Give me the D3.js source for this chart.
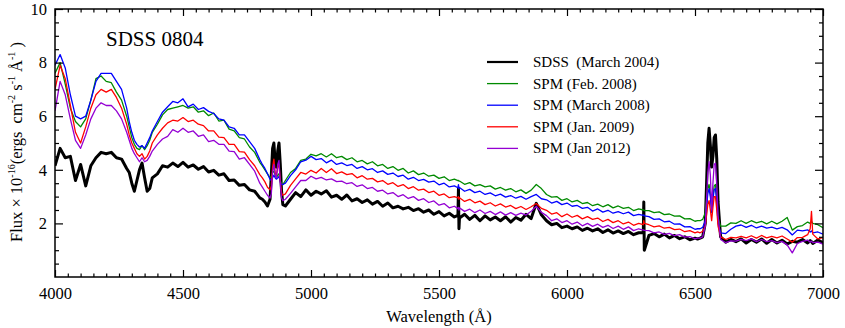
<!DOCTYPE html>
<html>
<head>
<meta charset="utf-8">
<script src="https://cdn.jsdelivr.net/npm/d3@7"></script>
<style>
  body { margin: 0; background: #fff; }
  text { font-family: "Liberation Serif", "Times New Roman", serif; fill: #000; }
</style>
</head>
<body>
<div id="chart"></div>
<script>
// Wavelength grid (Angstrom), finer around the Balmer lines and sky-line spikes
const wavelength = [
  4000,4020,4040,4060,4080,4100,4120,4140,4160,4180,4200,4220,4240,4260,4280,
  4290,4300,4310,4320,4330,4340,4350,4360,4370,4380,
  4400,4420,4440,4460,4480,4500,4520,4540,4560,4580,4600,4620,4640,4660,4680,4700,4720,4740,4760,4780,4800,
  4810,4820,4830,4840,4845,4850,4855,4860,4865,4870,4875,4880,4885,4890,4900,
  4920,4940,4960,4980,5000,5020,5040,5060,5080,5100,5120,5140,5160,5180,5200,5220,5240,5260,5280,5300,5320,5340,5360,5380,5400,5420,5440,5460,5480,5500,5520,5540,5560,
  5574,5576,5578,
  5580,5600,5620,5640,5660,5680,5700,5720,5740,5760,5780,5800,5820,5840,5860,5880,5900,5920,5940,5960,5980,6000,6020,6040,6060,6080,6100,6120,6140,6160,6180,6200,6220,6240,6260,6280,
  6298,6300,6302,
  6320,6340,6360,6380,6400,6420,6440,6460,6480,6500,
  6510,6520,6530,6540,6545,6550,6555,6560,6565,6570,6575,6580,6585,6590,6600,
  6620,6640,6660,6680,6700,6720,6740,6760,6780,6800,6820,6840,6860,6880,6900,6920,6940,6950,6955,6960,6980,7000
];

// Flux in 1e-16 erg/cm2/s/A
const sdssMar2004 = [
  4.15,4.8,4.45,4.5,3.6,4.2,3.4,4.15,4.45,4.65,4.6,4.65,4.45,4.4,4.05,
  3.9,3.5,3.2,3.6,4.0,4.25,3.7,3.2,3.3,3.7,
  3.85,4.15,4.1,4.25,4.12,4.28,4.1,4.18,4.02,4.12,3.92,3.98,3.8,3.85,3.6,3.62,3.42,3.45,3.25,3.2,2.95,
  2.9,2.8,2.65,2.9,3.8,4.8,5.0,4.3,4.1,4.7,5.0,4.2,3.2,2.7,2.65,
  2.9,3.15,3.0,3.25,3.05,3.2,3.1,3.22,2.98,3.05,2.9,3.06,2.84,2.92,2.78,2.88,2.72,2.82,2.64,2.76,2.58,2.64,2.54,2.6,2.48,2.55,2.42,2.5,2.34,2.44,2.28,2.38,2.24,
  2.3,3.3,1.8,
  2.2,2.34,2.15,2.3,2.1,2.28,2.13,2.24,2.1,2.25,2.05,2.22,2.12,2.34,2.18,2.75,2.32,2.1,1.95,2.0,1.84,1.9,1.8,1.87,1.74,1.82,1.72,1.8,1.66,1.76,1.64,1.72,1.62,1.7,1.58,1.65,
  1.65,2.8,1.0,
  1.55,1.62,1.5,1.6,1.46,1.55,1.43,1.5,1.39,1.45,
  1.42,1.45,1.5,2.0,3.4,5.0,5.55,4.9,4.1,4.5,5.2,5.3,4.4,2.8,1.5,
  1.3,1.4,1.32,1.42,1.27,1.4,1.3,1.42,1.26,1.4,1.27,1.37,1.23,1.33,1.3,1.4,1.27,1.36,1.32,1.25,1.38,1.28
];

const spmFeb2008 = [
  7.6,8.0,7.2,6.3,5.8,5.6,5.9,6.6,7.4,7.5,7.3,7.25,6.9,6.6,6.0,
  5.6,5.2,4.95,4.8,4.75,4.9,4.75,4.9,5.1,5.4,
  5.7,6.05,6.25,6.3,6.35,6.4,6.3,6.35,6.15,6.2,6.02,6.12,5.82,5.85,5.52,5.45,5.2,5.15,4.85,4.65,4.28,
  4.15,4.0,3.85,3.7,3.75,3.9,3.95,3.8,3.7,3.8,3.85,3.6,3.45,3.45,3.6,
  3.9,4.05,4.35,4.4,4.58,4.52,4.6,4.48,4.6,4.45,4.5,4.38,4.45,4.3,4.35,4.22,4.3,4.15,4.2,4.05,4.12,3.98,4.05,3.88,3.96,3.82,3.88,3.76,3.8,3.68,3.74,3.6,3.65,
  3.6,3.6,3.58,
  3.58,3.46,3.52,3.4,3.45,3.36,3.4,3.28,3.34,3.24,3.3,3.18,3.25,3.12,3.24,3.45,3.3,3.08,2.98,3.0,2.86,2.92,2.8,2.86,2.74,2.78,2.66,2.72,2.62,2.7,2.58,2.65,2.56,2.6,2.48,2.54,
  2.5,2.5,2.48,
  2.48,2.4,2.43,2.33,2.35,2.27,2.28,2.17,2.18,2.08,
  2.1,2.1,2.15,2.4,2.9,3.3,3.45,3.1,2.6,3.0,3.4,3.45,2.9,2.2,1.9,
  1.9,2.02,2.0,2.1,2.0,2.1,2.02,2.08,1.98,2.08,1.98,2.08,2.22,1.75,1.88,1.92,2.05,2.0,2.08,2.0,1.95,1.84
];

const spmMar2008 = [
  7.9,8.3,7.8,6.8,6.0,5.9,6.0,6.6,7.3,7.6,7.6,7.6,7.3,7.0,6.3,
  5.8,5.4,5.1,4.95,4.85,4.9,4.8,5.0,5.2,5.45,
  5.8,6.15,6.35,6.55,6.5,6.65,6.35,6.45,6.25,6.32,6.18,6.1,5.9,5.85,5.6,5.55,5.3,5.3,5.05,4.8,4.38,
  4.2,4.05,3.85,3.65,3.6,3.7,3.8,3.7,3.65,3.7,3.75,3.55,3.45,3.45,3.5,
  3.78,4.0,4.3,4.36,4.5,4.38,4.42,4.26,4.36,4.2,4.26,4.16,4.2,4.05,4.12,4.0,4.04,3.9,3.96,3.83,3.88,3.75,3.8,3.65,3.72,3.6,3.64,3.54,3.58,3.44,3.5,3.36,3.4,
  3.33,3.45,3.3,
  3.34,3.2,3.27,3.15,3.2,3.08,3.14,3.03,3.09,2.98,3.04,2.94,3.01,2.9,3.0,3.08,2.92,2.88,2.76,2.82,2.7,2.76,2.64,2.67,2.56,2.6,2.46,2.54,2.42,2.49,2.38,2.44,2.36,2.42,2.29,2.34,
  2.3,2.32,2.28,
  2.25,2.15,2.17,2.06,2.08,1.97,1.98,1.87,1.88,1.78,
  1.8,1.8,1.85,2.1,2.6,3.1,3.3,3.0,2.4,2.9,3.25,3.3,2.8,2.0,1.65,
  1.62,1.78,1.9,1.94,1.85,1.93,1.83,1.9,1.82,1.86,1.8,1.85,1.76,1.57,1.75,1.72,1.76,1.68,1.72,1.65,1.68,1.6
];

const spmJan2009 = [
  7.0,7.9,7.4,6.4,5.4,5.0,5.6,6.3,6.8,7.0,6.9,7.0,6.7,6.3,5.7,
  5.3,5.0,4.8,4.6,4.5,4.6,4.4,4.5,4.7,5.0,
  5.3,5.55,5.75,5.85,5.82,5.95,5.8,5.85,5.7,5.65,5.45,5.45,5.22,5.2,4.95,4.95,4.68,4.66,4.38,4.15,3.82,
  3.7,3.55,3.35,3.25,3.4,4.1,4.4,3.9,3.8,4.1,4.2,3.6,3.15,3.05,3.1,
  3.42,3.66,3.9,3.84,3.98,3.88,4.05,3.9,4.04,3.86,3.92,3.82,3.86,3.7,3.78,3.65,3.68,3.55,3.6,3.46,3.52,3.38,3.45,3.3,3.37,3.24,3.28,3.15,3.2,3.05,3.1,2.96,3.0,
  2.95,3.0,2.9,
  2.96,2.82,2.9,2.77,2.83,2.7,2.77,2.65,2.73,2.61,2.67,2.55,2.63,2.52,2.62,2.74,2.56,2.49,2.35,2.4,2.25,2.35,2.23,2.3,2.17,2.25,2.15,2.2,2.07,2.15,2.03,2.1,1.98,2.05,1.93,2.0,
  1.95,2.1,2.0,
  1.95,1.87,1.91,1.82,1.85,1.77,1.79,1.69,1.73,1.65,
  1.68,1.65,1.7,1.9,2.3,2.7,2.85,2.5,2.1,2.6,3.0,3.0,2.5,1.9,1.5,
  1.4,1.48,1.46,1.52,1.46,1.54,1.45,1.55,1.46,1.52,1.46,1.53,1.42,1.3,1.47,1.48,1.58,1.8,2.45,1.6,1.42,1.47
];

const spmJan2012 = [
  6.2,7.3,6.8,5.9,5.1,4.8,5.3,5.9,6.3,6.5,6.4,6.4,6.2,5.9,5.4,
  5.1,4.8,4.6,4.45,4.3,4.45,4.3,4.35,4.5,4.7,
  4.95,5.15,5.25,5.5,5.4,5.55,5.4,5.45,5.25,5.3,5.05,5.1,4.95,4.95,4.7,4.68,4.4,4.45,4.2,3.95,3.5,
  3.35,3.2,3.05,2.95,3.1,3.9,4.2,3.8,3.7,4.2,4.35,3.5,2.95,2.85,2.9,
  3.12,3.36,3.6,3.6,3.76,3.66,3.72,3.62,3.66,3.56,3.58,3.48,3.52,3.38,3.44,3.3,3.34,3.2,3.24,3.1,3.15,3.0,3.07,2.93,3.0,2.86,2.92,2.78,2.84,2.68,2.74,2.58,2.64,
  2.55,2.6,2.5,
  2.58,2.45,2.53,2.4,2.5,2.37,2.45,2.33,2.43,2.31,2.4,2.3,2.38,2.31,2.45,2.64,2.41,2.29,2.1,2.17,2.03,2.1,1.97,2.05,1.91,2.0,1.89,1.97,1.85,1.93,1.81,1.9,1.78,1.87,1.73,1.8,
  1.75,1.76,1.74,
  1.73,1.65,1.68,1.59,1.63,1.54,1.58,1.49,1.51,1.42,
  1.45,1.45,1.5,1.9,2.9,3.9,4.3,3.8,2.5,3.5,4.2,4.25,3.5,2.3,1.4,
  1.28,1.35,1.34,1.4,1.36,1.42,1.32,1.4,1.32,1.36,1.28,1.33,1.2,0.9,1.25,1.33,1.38,1.3,1.34,1.28,1.3,1.23
];

const seriesNames = ["SDSS\u00a0\u00a0(March 2004)", "SPM (Feb. 2008)", "SPM (March 2008)", "SPM (Jan. 2009)", "SPM (Jan 2012)"];
const seriesColors = ["#000000", "#008a00", "#0000ff", "#ff0000", "#9400d3"];
const seriesValues = [sdssMar2004, spmFeb2008, spmMar2008, spmJan2009, spmJan2012];

const xMajor = [4000, 4500, 5000, 5500, 6000, 6500, 7000];
const yMajor = [2, 4, 6, 8, 10];

const width = 845, height = 328;
const plot = { left: 55, right: 823, top: 9, bottom: 277 };

const svg = d3.select("#chart").append("svg")
  .attr("width", width)
  .attr("height", height);

const x = d3.scaleLinear().domain([4000, 7000]).range([plot.left, plot.right]);
const y = d3.scaleLinear().domain([0, 10]).range([plot.bottom, plot.top]);

// clip so spectra stay inside the frame
svg.append("clipPath").attr("id", "clip")
  .append("rect")
  .attr("x", plot.left).attr("y", plot.top)
  .attr("width", plot.right - plot.left).attr("height", plot.bottom - plot.top);

const line = d3.line()
  .defined(d => d[1] != null)
  .x(d => x(d[0]))
  .y(d => y(d[1]));

const spectra = svg.append("g").attr("clip-path", "url(#clip)");
seriesValues.forEach((vals, i) => {
  spectra.append("path")
    .datum(wavelength.map((w, j) => [w, vals[j]]))
    .attr("fill", "none")
    .attr("stroke", seriesColors[i])
    .attr("stroke-width", i === 0 ? 3 : 1.3)
    .attr("stroke-linejoin", "round")
    .attr("d", line);
});

// minor tick values
const xMinor = d3.range(4000, 7001, 50).filter(v => v % 500 !== 0);
const yMinor = d3.range(0.5, 10, 0.5).filter(v => v % 2 !== 0);

function styleAxis(g) {
  g.select(".domain").remove();
  g.selectAll(".tick line").attr("stroke", "#000").attr("stroke-width", 1.2);
  g.selectAll("text").style("font-family", "'Liberation Serif', serif").style("font-size", "16.5px");
}

// bottom
svg.append("g").attr("transform", `translate(0,${plot.bottom})`)
  .call(d3.axisBottom(x).tickValues(xMajor).tickSize(-7).tickPadding(10).tickFormat(d3.format("d")))
  .call(styleAxis);
svg.append("g").attr("transform", `translate(0,${plot.bottom})`)
  .call(d3.axisBottom(x).tickValues(xMinor).tickSize(-3.5).tickFormat(""))
  .call(styleAxis);
// top
svg.append("g").attr("transform", `translate(0,${plot.top})`)
  .call(d3.axisTop(x).tickValues(xMajor).tickSize(-7).tickFormat(""))
  .call(styleAxis);
svg.append("g").attr("transform", `translate(0,${plot.top})`)
  .call(d3.axisTop(x).tickValues(xMinor).tickSize(-3.5).tickFormat(""))
  .call(styleAxis);
// left
svg.append("g").attr("transform", `translate(${plot.left},0)`)
  .call(d3.axisLeft(y).tickValues(yMajor).tickSize(-8).tickPadding(8).tickFormat(d3.format("d")))
  .call(styleAxis);
svg.append("g").attr("transform", `translate(${plot.left},0)`)
  .call(d3.axisLeft(y).tickValues(yMinor).tickSize(-4).tickFormat(""))
  .call(styleAxis);
// right
svg.append("g").attr("transform", `translate(${plot.right},0)`)
  .call(d3.axisRight(y).tickValues(yMajor).tickSize(-8).tickFormat(""))
  .call(styleAxis);
svg.append("g").attr("transform", `translate(${plot.right},0)`)
  .call(d3.axisRight(y).tickValues(yMinor).tickSize(-4).tickFormat(""))
  .call(styleAxis);

// frame
svg.append("rect")
  .attr("x", plot.left).attr("y", plot.top)
  .attr("width", plot.right - plot.left).attr("height", plot.bottom - plot.top)
  .attr("fill", "none").attr("stroke", "#000").attr("stroke-width", 1.5);

// title inside plot
svg.append("text")
  .attr("x", 106).attr("y", 46)
  .style("font-size", "21px")
  .text("SDSS 0804");

// axis titles
svg.append("text")
  .attr("x", (plot.left + plot.right) / 2).attr("y", 322)
  .attr("text-anchor", "middle")
  .style("font-size", "16.5px")
  .text("Wavelength (Å)");

const yTitle = svg.append("text")
  .attr("transform", "translate(22,142) rotate(-90)")
  .attr("text-anchor", "middle")
  .style("font-size", "16.5px");
yTitle.append("tspan").text("Flux × 10");
yTitle.append("tspan").attr("dy", -7).style("font-size", "10px").text("-16");
yTitle.append("tspan").attr("dy", 7).text("(ergs\u00a0\u00a0cm");
yTitle.append("tspan").attr("dy", -7).style("font-size", "10px").text("-2");
yTitle.append("tspan").attr("dy", 7).text(" s");
yTitle.append("tspan").attr("dy", -7).style("font-size", "10px").text("-1");
yTitle.append("tspan").attr("dy", 7).text(" Å");
yTitle.append("tspan").attr("dy", -7).style("font-size", "10px").text("-1");
yTitle.append("tspan").attr("dy", 7).text(" )");

// legend
const legend = svg.append("g").attr("transform", "translate(487,62)");
seriesNames.forEach((name, i) => {
  const row = legend.append("g").attr("transform", `translate(0,${i * 21.6})`);
  row.append("line")
    .attr("x1", 0).attr("x2", 31)
    .attr("stroke", seriesColors[i])
    .attr("stroke-width", i === 0 ? 2.2 : 1.3);
  row.append("text")
    .attr("x", 46).attr("dy", "0.33em")
    .style("font-size", "15px")
    .text(name);
});
</script>
</body>
</html>
